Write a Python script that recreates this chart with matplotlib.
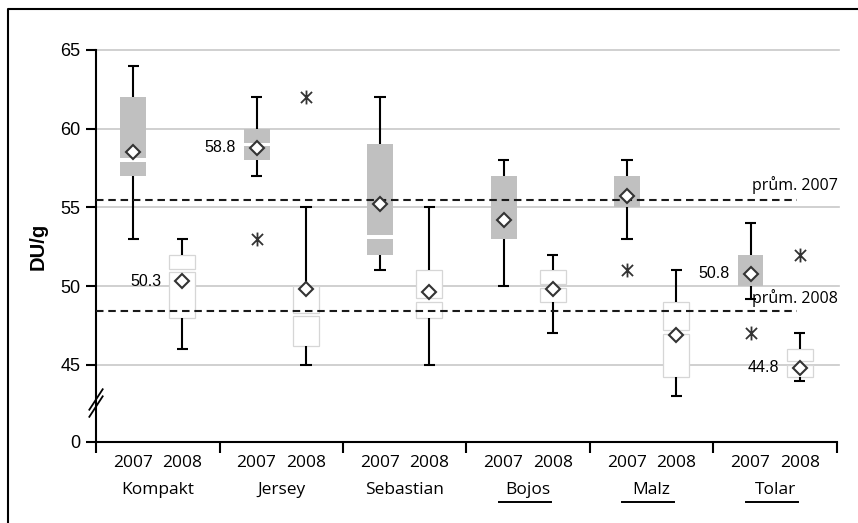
"""Box plots of DU/g by variety and year (2007 vs 2008)."""

import numpy as np
import matplotlib
matplotlib.use("Agg")
import matplotlib.pyplot as plt
import matplotlib.transforms as mtransforms
from matplotlib.lines import Line2D
from matplotlib.path import Path

varieties = ["Kompakt", "Jersey", "Sebastian", "Bojos", "Malz", "Tolar"]
underlined = ["Bojos", "Malz", "Tolar"]
years = ["2007", "2008"]

# one entry per box: K07, K08, J07, J08, S07, S08, B07, B08, M07, M08, T07, T08
whisk_lo = [53, 46, 57, 45, 51, 45, 50, 47, 53, 43, 49.2, 44]
q1 = [57, 48, 58, 46.2, 52, 48, 53, 49, 55, 44.2, 50, 44.2]
median = [58, 51, 59, 48.2, 53.1, 49.1, np.nan, 50, np.nan, 47.1, np.nan, 45.1]
q3 = [62, 52, 60, 50, 59, 51, 57, 51, 57, 49, 52, 46]
whisk_hi = [64, 53, 62, 55, 62, 55, 58, 52, 58, 51, 54, 47]
means = [58.5, 50.3, 58.8, 49.8, 55.2, 49.6, 54.2, 49.8, 55.7, 46.9, 50.8, 44.8]
outliers = [[], [], [53], [62], [], [], [], [], [51], [], [47], [52]]
mean_labels = {2: "58.8", 1: "50.3", 10: "50.8", 11: "44.8"}

avg_2007 = 55.5
avg_2008 = 48.4
y_ticks = [45, 50, 55, 60, 65]

ZERO_POS = 40.1   # where the "0" of the broken axis sits
GRAY = "#c0c0c0"
WHITE_EDGE = "#d6d6d6"
DARK = "#333333"
MYRIAD = ["Open Sans", "DejaVu Sans"]
ARIAL = ["Liberation Sans", "DejaVu Sans"]

# outlier glyph: vertical bar crossed by an X
STAR = Path([(0, -1), (0, 1), (-0.8, -0.8), (0.8, 0.8), (-0.8, 0.8), (0.8, -0.8)],
            [Path.MOVETO, Path.LINETO] * 3)

fig = plt.figure(figsize=(8.58, 5.23), dpi=100)
ax = fig.add_axes([0.1119, 0.1549, 0.8636, 0.7495])

n = len(varieties)
xpos = np.array([[i + 0.3, i + 0.7] for i in range(n)]).ravel()
box_w = 0.21
cap_w = 0.09
gap = 0.12

for gy in y_ticks:
    ax.plot([0, n + 0.015], [gy, gy], color="#c8c8c8", lw=1.2, zorder=0, clip_on=False)

for k, x in enumerate(xpos):
    first = k % 2 == 0
    fc = GRAY if first else "white"
    ec = "none" if first else WHITE_EDGE
    m = median[k]
    if np.isnan(m):
        ax.bar(x, q3[k] - q1[k], bottom=q1[k], width=box_w, color=fc,
               edgecolor=ec, lw=0.9, zorder=2)
    else:
        ax.bar(x, m - gap - q1[k], bottom=q1[k], width=box_w, color=fc,
               edgecolor=ec, lw=0.9, zorder=2)
        ax.bar(x, q3[k] - m - gap, bottom=m + gap, width=box_w, color=fc,
               edgecolor=ec, lw=0.9, zorder=2)
    # whiskers + caps
    ax.vlines(x, q3[k], whisk_hi[k], color="black", lw=1.5, zorder=2.5)
    ax.vlines(x, whisk_lo[k], q1[k], color="black", lw=1.5, zorder=2.5)
    ax.hlines([whisk_hi[k], whisk_lo[k]], x - cap_w / 2, x + cap_w / 2,
              color="black", lw=1.5, zorder=2.5)
    if outliers[k]:
        ax.plot([x] * len(outliers[k]), outliers[k], ls="none",
                marker=STAR, ms=10, mew=1.3, color=DARK, zorder=4)

# average lines
dash = (0, (3.6, 2.3))
ax.plot([0, 5.676], [avg_2007, avg_2007], color="#1a1a1a", lw=1.5, ls=dash, zorder=3)
ax.plot([0, 5.676], [avg_2008, avg_2008], color="#1a1a1a", lw=1.5, ls=dash, zorder=3)
ax.text(n + 0.01, avg_2007 + 0.35, "prům. 2007", ha="right", va="bottom",
        fontsize=11.5, family=MYRIAD, zorder=5)
ax.text(n + 0.01, avg_2008 + 0.85, "prům. 2008", ha="right", va="center",
        fontsize=11.5, family=MYRIAD, zorder=5)

# means
ax.plot(xpos, means, ls="none", marker="D", ms=7, mfc="white", mec=DARK,
        mew=1.5, zorder=5)
for k, lab in mean_labels.items():
    ax.text(xpos[k] - 0.17, means[k], lab, ha="right", va="center",
            fontsize=11.5, family=ARIAL)

# axes styling
ax.set_xlim(0, n)
ax.set_ylim(ZERO_POS, 65)
for s in ("top", "right"):
    ax.spines[s].set_visible(False)
for s in ("left", "bottom"):
    ax.spines[s].set_linewidth(1.5)
ax.set_yticks([ZERO_POS] + y_ticks)
ax.set_yticklabels(["0"] + [str(t) for t in y_ticks], fontsize=13, family=ARIAL)
ax.tick_params(axis="y", direction="out", length=7, width=1.5, pad=4)
ax.set_xticks(np.arange(n + 1))
ax.set_xticklabels([])
ax.tick_params(axis="x", direction="out", length=8, width=1.5)
ax.set_ylabel("DU/g", fontsize=14.5, fontweight="bold", family=ARIAL, labelpad=9)

# axis break marks
tb = mtransforms.blended_transform_factory(ax.transAxes, ax.transData)
for dy in (0.0, 0.45):
    ax.add_line(Line2D([-0.009, 0.009], [41.7 + dy, 43.0 + dy], transform=tb,
                       color="black", lw=1.3, clip_on=False))

# category labels
tx = mtransforms.blended_transform_factory(ax.transData, ax.transAxes)
for k, x in enumerate(xpos):
    ax.text(x, -0.063, years[k % 2], ha="center", va="baseline", fontsize=12.5,
            family=MYRIAD, transform=tx)
for i, name in enumerate(varieties):
    ax.text(i + 0.5, -0.133, name, ha="center", va="baseline", fontsize=12.5,
            family=MYRIAD, transform=tx)
    if name in underlined:
        ax.add_line(Line2D([i + 0.263, i + 0.684], [-0.152, -0.152], transform=tx,
                           color="black", lw=1.4, clip_on=False))

# frame remnant (top and left edges)
fig.add_artist(Line2D([0.0093, 0.0093, 1.0], [0.0, 0.9828, 0.9828],
                      transform=fig.transFigure, color="black", lw=1.5))

fig.savefig("out.png", dpi=100)
